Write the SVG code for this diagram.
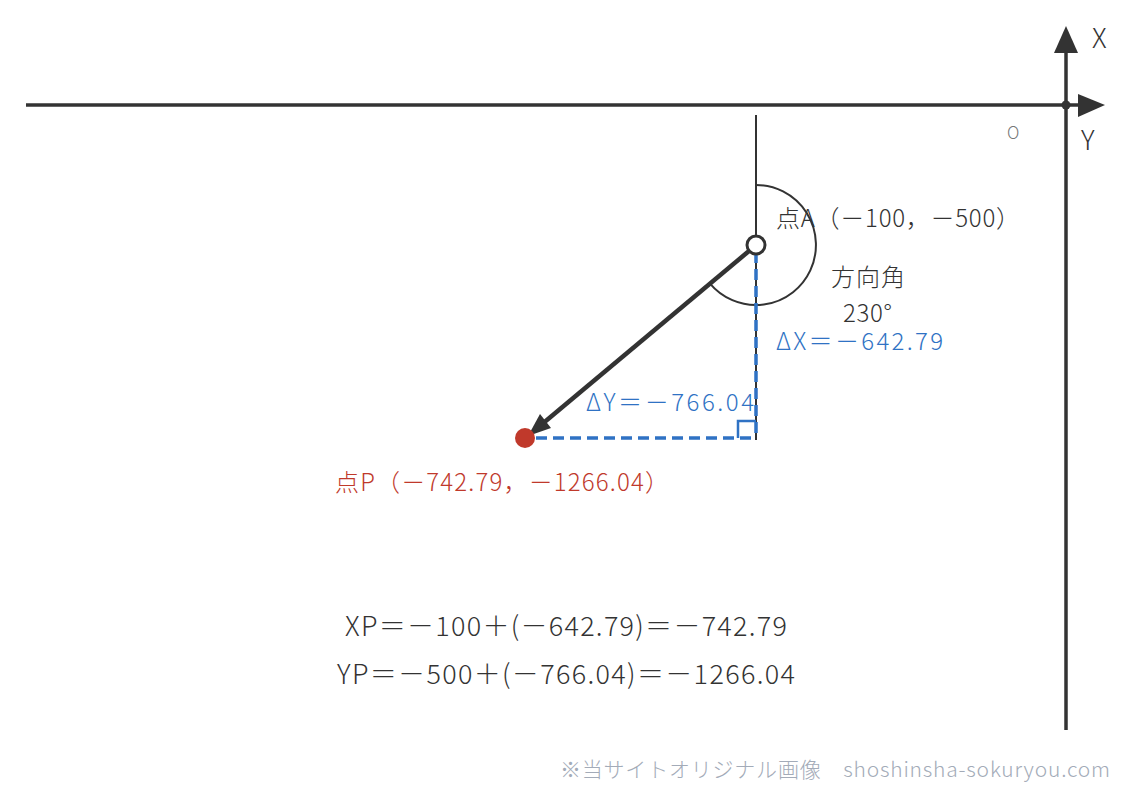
<svg xmlns="http://www.w3.org/2000/svg" width="1126" height="792" viewBox="0 0 1126 792">
<style>
text{font-family:"Noto Sans CJK JP","Noto Sans",sans-serif;font-weight:300;}
.dk{fill:#333;}
.bl{fill:#2f72c4;}
.rd{fill:#c0392b;}
.axis{stroke:#333;stroke-width:3.5;fill:none;}
.dash{stroke:#2f72c4;stroke-width:3.5;stroke-dasharray:11,6;fill:none;}
</style>
<rect width="1126" height="792" fill="#fff"/>
<g id="axes">
<line class="axis" x1="26" y1="105" x2="1080" y2="105"/>
<polygon points="1078,94 1105,105 1078,117" fill="#333"/>
<line class="axis" x1="1066" y1="50" x2="1066" y2="730"/>
<polygon points="1054,53 1066,26 1078,53" fill="#333"/>
<circle cx="1066" cy="105" r="4.5" fill="#333"/>
<text x="1092" y="48" font-size="27" class="dk">X</text>
<text x="1081" y="150" font-size="27" class="dk">Y</text>
<text x="1007" y="139" font-size="17" fill="#777">O</text>
</g>
<g id="connectors">
<line x1="756" y1="115" x2="756" y2="440" stroke="#333" stroke-width="2"/>
<path d="M756,185 A60,60 0 1 1 710,283.6" fill="none" stroke="#333" stroke-width="2"/>
<line class="dash" x1="756" y1="252" x2="756" y2="438"/>
<line class="dash" x1="536" y1="438" x2="756" y2="438"/>
<polyline points="738,438 738,421 756,421" fill="none" stroke="#2f72c4" stroke-width="2.5"/>
<line x1="749" y1="251" x2="535" y2="430" stroke="#333" stroke-width="4.5"/>
<polygon points="528,436 540,414 551,428" fill="#333"/>
</g>
<g id="pointA">
<circle cx="756" cy="245" r="9" fill="#fff" stroke="#333" stroke-width="3"/>
<text x="776" y="227" font-size="24" textLength="244" class="dk">点A（－100，－500）</text>
</g>
<g id="angle">
<text x="831" y="286" font-size="24" textLength="74" class="dk">方向角</text>
<text x="843" y="322" font-size="24" textLength="49" class="dk">230°</text>
</g>
<g id="deltaX">
<text x="776" y="350" font-size="24" textLength="167" class="bl">ΔX＝－642.79</text>
</g>
<g id="deltaY">
<text x="586" y="411" font-size="24" textLength="168" class="bl">ΔY＝－766.04</text>
</g>
<g id="pointP">
<circle cx="525" cy="438" r="10" fill="#c0392b"/>
<text x="335" y="491" font-size="24" textLength="334" class="rd">点P（－742.79，－1266.04）</text>
</g>
<g id="formulas">
<text x="345" y="636" font-size="27" textLength="442" class="dk">XP＝－100＋(－642.79)＝－742.79</text>
<text x="337" y="684" font-size="27" textLength="458" class="dk">YP＝－500＋(－766.04)＝－1266.04</text>
</g>
<text x="560" y="777" font-size="21" textLength="550" fill="#a3abb8">※当サイトオリジナル画像　shoshinsha-sokuryou.com</text>
</svg>
